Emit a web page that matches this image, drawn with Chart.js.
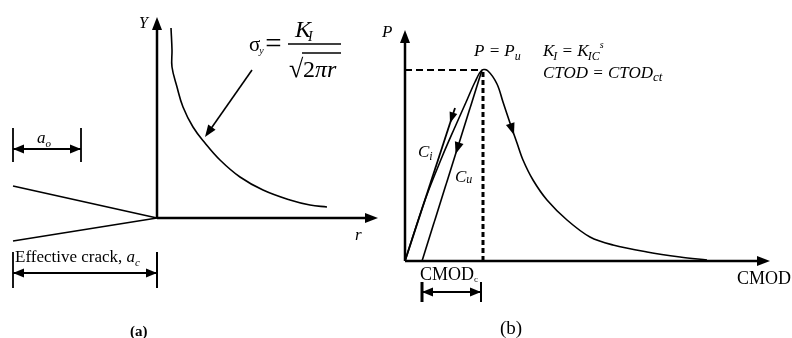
<!DOCTYPE html>
<html>
<head>
<meta charset="utf-8">
<script src="https://cdn.jsdelivr.net/npm/chart.js@4.4.1/dist/chart.umd.min.js"></script>
<style>
html, body { margin: 0; padding: 0; background: #fff; }
#wrap { position: relative; width: 792px; height: 338px; overflow: hidden; }
#chartA, #chartB { position: absolute; top: 0; }
#chartA { left: 0; }
#chartB { left: 372px; }
</style>
</head>
<body>
<div id="wrap">
  <canvas id="chartA" width="390" height="338"></canvas>
  <canvas id="chartB" width="420" height="338"></canvas>
</div>
<script>
// (a) stress ahead of the effective crack tip (r measured from the tip)
var stressR = [1.4, 1.5, 1.5, 2.0, 2.6, 3.6, 4.8, 6.3, 8.3, 10.6, 13.3, 15.3, 17.0];
var stressY = [19.0, 16.8, 15.1, 13.1, 11.1, 9.1, 7.5, 5.8, 4.1, 2.8, 1.8, 1.3, 1.1];
var aC = 14.4;          // effective crack length
var aO = 6.8;           // initial crack length
var mouthUpper = 3.2;   // crack faces opening at the mouth
var mouthLower = -2.3;

// (b) load P against CMOD
var cmod = [0, 2.0, 3.7, 5.0, 6.2, 7.0, 7.7, 8.3, 9.2, 9.8, 10.5, 11.2, 11.8, 12.8, 14.2, 16.2, 18.5, 20.8, 24.2, 27.5, 30.2];
var load = [0, 6.1, 10.4, 13.4, 16.1, 17.9, 19.1, 19.0, 17.7, 15.9, 13.8, 11.8, 10.1, 8.1, 6.1, 4.1, 2.4, 1.6, 0.9, 0.4, 0.1];
var peakCmod = 7.7, peakLoad = 19.1;
var ciEnd = [5.0, 15.3];   // initial compliance C_i
var cuZero = 1.7;          // unloading line C_u meets P = 0
var cmodC = 5.9;           // CMOD_c

var SERIF = '"Liberation Serif", "DejaVu Serif", serif';

function pts(xs, ys) {
  return xs.map(function (x, i) { return { x: x, y: ys[i] }; });
}

function seg(data, width, dash) {
  return {
    data: data, showLine: true, borderColor: '#000', borderWidth: width || 1.6,
    borderDash: dash || [], pointRadius: 0, fill: false, tension: 0
  };
}

function px(chart, x, y) {
  return [chart.scales.x.getPixelForValue(x), chart.scales.y.getPixelForValue(y)];
}

// filled arrow head with its tip at "to"
function head(ctx, from, to, len, half) {
  var a = Math.atan2(to[1] - from[1], to[0] - from[0]);
  var bx = to[0] - len * Math.cos(a), by = to[1] - len * Math.sin(a);
  ctx.beginPath();
  ctx.moveTo(to[0], to[1]);
  ctx.lineTo(bx + half * Math.sin(a), by - half * Math.cos(a));
  ctx.lineTo(bx - half * Math.sin(a), by + half * Math.cos(a));
  ctx.closePath();
  ctx.fill();
}

function txt(ctx, s, x, y, font) {
  ctx.font = font;
  ctx.fillText(s, x, y);
  return x + ctx.measureText(s).width;
}

function baseOptions(xmin, xmax, ymin, ymax) {
  return {
    responsive: false,
    animation: false,
    layout: { padding: 0 },
    plugins: { legend: { display: false }, tooltip: { enabled: false } },
    scales: {
      x: { type: 'linear', min: xmin, max: xmax, display: false },
      y: { type: 'linear', min: ymin, max: ymax, display: false }
    }
  };
}

// ---------- (a) ----------
var decorA = {
  id: 'decorA',
  afterDatasetsDraw: function (c) {
    var ctx = c.ctx;
    ctx.save();
    ctx.fillStyle = '#000';
    ctx.strokeStyle = '#000';
    ctx.textBaseline = 'alphabetic';
    // axis heads
    head(ctx, px(c, 0, 10), px(c, 0, 20.1), 13, 5);
    head(ctx, px(c, 10, 0), px(c, 22.1, 0), 13, 5);
    // pointer from the formula to the curve
    head(ctx, px(c, 9.5, 14.8), px(c, 4.8, 8.1), 12, 4.5);
    // dimension heads
    head(ctx, px(c, -aC + aO, 6.9), px(c, -aC, 6.9), 11, 4.5);
    head(ctx, px(c, -aC, 6.9), px(c, -aC + aO, 6.9), 11, 4.5);
    head(ctx, px(c, 0, -5.5), px(c, -aC, -5.5), 11, 4.5);
    head(ctx, px(c, -aC, -5.5), px(c, 0, -5.5), 11, 4.5);

    var p = px(c, -1.8, 19.0);
    txt(ctx, 'Y', p[0], p[1], 'italic 16px ' + SERIF);
    p = px(c, 19.8, -2.2);
    txt(ctx, 'r', p[0], p[1], 'italic 17px ' + SERIF);

    p = px(c, -12.0, 7.5);
    var x = txt(ctx, 'a', p[0], p[1], 'italic 17px ' + SERIF);
    txt(ctx, 'o', x, p[1] + 4, 'italic 11px ' + SERIF);

    p = px(c, -14.2, -4.4);
    x = txt(ctx, 'Effective crack, ', p[0], p[1], '17px ' + SERIF);
    x = txt(ctx, 'a', x, p[1], 'italic 17px ' + SERIF);
    txt(ctx, 'c', x, p[1] + 4, 'italic 11px ' + SERIF);

    p = px(c, -2.7, -11.8);
    txt(ctx, '(a)', p[0], p[1], 'bold 15px ' + SERIF);

    // sigma_y = K_I / sqrt(2 pi r)
    p = px(c, 9.2, 16.7);
    x = txt(ctx, 'σ', p[0], p[1], '21px ' + SERIF);
    x = txt(ctx, 'y', x - 1, p[1] + 3, 'italic 10px ' + SERIF);
    txt(ctx, '=', x + 1.5, p[1] + 2, '29px ' + SERIF);
    x = txt(ctx, 'K', p[0] + 46, p[1] - 14, 'italic 24px ' + SERIF);
    txt(ctx, 'I', x - 3, p[1] - 10, 'italic 14px ' + SERIF);
    ctx.lineWidth = 1.5;
    ctx.beginPath();
    ctx.moveTo(p[0] + 39, p[1] - 7);
    ctx.lineTo(p[0] + 92, p[1] - 7);
    ctx.stroke();
    txt(ctx, '√', p[0] + 40, p[1] + 26, '26px ' + SERIF);
    ctx.lineWidth = 1.3;
    ctx.beginPath();
    ctx.moveTo(p[0] + 53, p[1] + 2);
    ctx.lineTo(p[0] + 92, p[1] + 2);
    ctx.stroke();
    x = txt(ctx, '2', p[0] + 54, p[1] + 26, '24px ' + SERIF);
    x = txt(ctx, 'π', x, p[1] + 26, 'italic 24px ' + SERIF);
    txt(ctx, 'r', x, p[1] + 26, 'italic 24px ' + SERIF);
    ctx.restore();
  }
};

new Chart(document.getElementById('chartA'), {
  type: 'scatter',
  data: {
    datasets: [
      Object.assign(seg(pts(stressR, stressY), 1.6), { tension: 0.4 }),
      seg([{ x: -aC, y: mouthUpper }, { x: 0, y: 0 }], 1.6),
      seg([{ x: -aC, y: mouthLower }, { x: 0, y: 0 }], 1.6),
      seg([{ x: 0, y: 0 }, { x: 0, y: 19.3 }], 2.5),
      seg([{ x: 0, y: 0 }, { x: 21.3, y: 0 }], 2.5),
      seg([{ x: 9.5, y: 14.8 }, { x: 5.3, y: 8.8 }], 1.6),
      seg([{ x: -aC, y: 5.6 }, { x: -aC, y: 9.0 }], 1.8),
      seg([{ x: -aC + aO, y: 5.6 }, { x: -aC + aO, y: 9.0 }], 1.8),
      seg([{ x: -aC, y: 6.9 }, { x: -aC + aO, y: 6.9 }], 2),
      seg([{ x: -aC, y: -3.4 }, { x: -aC, y: -7.0 }], 1.8),
      seg([{ x: 0, y: -3.4 }, { x: 0, y: -7.0 }], 2),
      seg([{ x: -aC, y: -5.5 }, { x: 0, y: -5.5 }], 2)
    ]
  },
  options: baseOptions(-15.7, 23.3, -12.0, 21.8),
  plugins: [decorA]
});

// ---------- (b) ----------
var decorB = {
  id: 'decorB',
  afterDatasetsDraw: function (c) {
    var ctx = c.ctx;
    ctx.save();
    ctx.fillStyle = '#000';
    ctx.strokeStyle = '#000';
    head(ctx, px(c, 0, 10), px(c, 0, 23.1), 13, 5);
    head(ctx, px(c, 10, 0), px(c, 36.5, 0), 13, 5);

    // direction marks on the curves
    var t = 0.44;
    var cu = [peakCmod + t * (cuZero - peakCmod), peakLoad * (1 - t)];
    head(ctx, px(c, peakCmod, peakLoad), px(c, cu[0], cu[1]), 12, 4.5);
    t = 0.1;
    var ci = [ciEnd[0] * (1 - t), ciEnd[1] * (1 - t)];
    head(ctx, px(c, ciEnd[0], ciEnd[1]), px(c, ci[0], ci[1]), 11, 4);
    head(ctx, px(c, 10.5, 13.8), px(c, 10.9, 12.6), 12, 4.5);

    // CMOD_c dimension heads
    var y = -3.1;
    head(ctx, px(c, cuZero + cmodC, y), px(c, cuZero, y), 11, 4.5);
    head(ctx, px(c, cuZero, y), px(c, cuZero + cmodC, y), 11, 4.5);

    var it = 'italic 17px ' + SERIF, sub = 'italic 12px ' + SERIF;
    var p = px(c, -2.3, 22.4);
    txt(ctx, 'P', p[0], p[1], 'italic 17px ' + SERIF);

    p = px(c, 6.9, 20.5);
    var x = txt(ctx, 'P = P', p[0], p[1], it);
    txt(ctx, 'u', x, p[1] + 4, sub);

    p = px(c, 13.8, 20.5);
    x = txt(ctx, 'K', p[0], p[1], it);
    x = txt(ctx, 'I', x - 1, p[1] + 4, sub);
    x = txt(ctx, ' = ', x, p[1], it);
    x = txt(ctx, 'K', x, p[1], it);
    x = txt(ctx, 'IC', x - 1, p[1] + 4, sub);
    txt(ctx, 's', x, p[1] - 8, 'italic 10px ' + SERIF);

    p = px(c, 13.8, 18.3);
    x = txt(ctx, 'CTOD = CTOD', p[0], p[1], it);
    txt(ctx, 'ct', x, p[1] + 3, 'italic 13px ' + SERIF);

    p = px(c, 1.3, 10.4);
    x = txt(ctx, 'C', p[0], p[1], it);
    txt(ctx, 'i', x, p[1] + 3, sub);
    p = px(c, 5.0, 7.9);
    x = txt(ctx, 'C', p[0], p[1], it);
    txt(ctx, 'u', x, p[1] + 1, sub);

    p = px(c, 1.5, -1.9);
    x = txt(ctx, 'CMOD', p[0], p[1], '18px ' + SERIF);
    txt(ctx, 'c', x, p[1] + 2, '9px ' + SERIF);

    p = px(c, 33.2, -2.3);
    txt(ctx, 'CMOD', p[0], p[1], '18px ' + SERIF);
    p = px(c, 9.5, -7.3);
    txt(ctx, '(b)', p[0], p[1], '19px ' + SERIF);
    ctx.restore();
  }
};

new Chart(document.getElementById('chartB'), {
  type: 'scatter',
  data: {
    datasets: [
      Object.assign(seg(pts(cmod, load), 1.6), { tension: 0.35 }),
      seg([{ x: 0, y: 0 }, { x: ciEnd[0], y: ciEnd[1] }], 1.8),
      seg([{ x: cuZero, y: 0 }, { x: peakCmod, y: peakLoad }], 1.6),
      seg([{ x: 0, y: peakLoad }, { x: peakCmod, y: peakLoad }], 2, [7, 4]),
      seg([{ x: peakCmod + 0.1, y: 0 }, { x: peakCmod + 0.1, y: peakLoad }], 3, [5, 3]),
      seg([{ x: 0, y: 0 }, { x: 0, y: 22.3 }], 2.5),
      seg([{ x: 0, y: 0 }, { x: 35.8, y: 0 }], 2.5),
      seg([{ x: cuZero, y: -2.1 }, { x: cuZero, y: -4.1 }], 3),
      seg([{ x: cuZero + cmodC, y: -2.1 }, { x: cuZero + cmodC, y: -4.1 }], 2),
      seg([{ x: cuZero, y: -3.1 }, { x: cuZero + cmodC, y: -3.1 }], 2)
    ]
  },
  options: baseOptions(-3.3, 38.7, -7.7, 26.1),
  plugins: [decorB]
});
</script>
</body>
</html>
